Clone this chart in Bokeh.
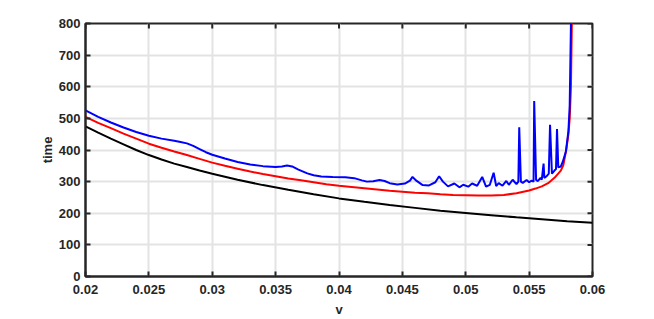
from bokeh.plotting import figure
from bokeh.models import FixedTicker, Range1d
from bokeh.embed import file_html
from bokeh.resources import INLINE

# ---- data ----
x_ticks = [0.02, 0.025, 0.03, 0.035, 0.04, 0.045, 0.05, 0.055, 0.06]
x_tick_labels = ["0.02", "0.025", "0.03", "0.035", "0.04", "0.045", "0.05", "0.055", "0.06"]
y_ticks = [0, 100, 200, 300, 400, 500, 600, 700, 800]
x_min, x_max = 0.02, 0.06
y_min, y_max = 0, 800

v_black = [0.020, 0.021, 0.022, 0.023, 0.024, 0.025, 0.026, 0.027, 0.028, 0.029,
           0.030, 0.032, 0.034, 0.036, 0.038, 0.040, 0.042, 0.044, 0.046, 0.048,
           0.050, 0.052, 0.054, 0.056, 0.058, 0.060]
t_black = [475, 455, 436, 418, 400, 384, 370, 357, 346, 335,
           325, 306, 289, 274, 260, 247, 236, 226, 217, 208,
           201, 194, 187, 181, 175, 170]

v_red = [0.020, 0.021, 0.022, 0.023, 0.024, 0.025, 0.026, 0.027, 0.028, 0.029,
         0.030, 0.031, 0.032, 0.033, 0.034, 0.035, 0.036, 0.037, 0.038, 0.039,
         0.040, 0.041, 0.042, 0.043, 0.044, 0.045, 0.046, 0.047, 0.048, 0.049,
         0.050, 0.051, 0.052, 0.053, 0.054, 0.055, 0.0555, 0.056, 0.0565, 0.057,
         0.0575, 0.0577, 0.0579, 0.0580, 0.0581, 0.0582, 0.0583, 0.05837, 0.0585]
t_red = [505, 486, 469, 452, 436, 420, 407, 395, 384, 372,
         360, 350, 341, 332, 324, 317, 310, 304, 298, 292,
         287, 283, 279, 275, 271, 268, 265, 263, 260, 258,
         257, 256, 256, 258, 263, 272, 278, 285, 295, 312,
         335, 352, 394, 420, 450, 498, 600, 800, 1000]

v_blue = [0.0200, 0.0210, 0.0220, 0.0230, 0.0240, 0.0250, 0.0260, 0.0270, 0.0275, 0.0280,
          0.0285, 0.0290, 0.0295, 0.0300, 0.0310, 0.0320, 0.0330, 0.0340, 0.0350, 0.0355,
          0.0359, 0.0363, 0.0368, 0.0375, 0.0380, 0.0386, 0.0395, 0.0405, 0.0412, 0.0418,
          0.0422, 0.0427, 0.0432, 0.0436, 0.0440, 0.0446, 0.0452, 0.0456, 0.0458, 0.0461,
          0.0466, 0.0471, 0.0476, 0.0479, 0.0482, 0.0486, 0.0491, 0.0495, 0.0498, 0.0502,
          0.0505, 0.0509, 0.0513, 0.0516, 0.0519, 0.0522, 0.0524, 0.0526, 0.0529, 0.0532,
          0.0534, 0.0537, 0.0540, 0.05415, 0.05422, 0.05435, 0.0545, 0.0548, 0.0550, 0.0552,
          0.05535, 0.0554, 0.05555, 0.0557, 0.0559, 0.0560, 0.05614, 0.0562, 0.0564, 0.05655,
          0.05665, 0.0568, 0.0570, 0.05712, 0.0572, 0.0573, 0.0575, 0.05765, 0.0579, 0.0581,
          0.0582, 0.0583, 0.05835]
t_blue = [525, 505, 487, 471, 457, 445, 436, 429, 425, 421,
          413, 403, 393, 385, 373, 362, 354, 349, 346, 348,
          351, 348, 338, 326, 320, 316, 315, 314, 311, 304,
          300, 301, 305, 302, 295, 291, 294, 303, 315, 303,
          289, 288, 298, 317, 300, 285, 294, 282, 290, 284,
          294, 287, 315, 284, 290, 328, 286, 295, 287, 302,
          290, 306, 292, 300, 472, 300, 296, 305, 298, 303,
          300, 555, 305, 302, 312, 306, 357, 312, 318, 325,
          480, 325, 335, 340, 466, 345, 348, 362, 395, 460,
          540, 800, 1000]

# ---- figure ----
AX = "#262626"
FONT = "Liberation Sans"

p = figure(width=654, height=319, output_backend="svg", toolbar_location=None,
           x_range=Range1d(x_min, x_max), y_range=Range1d(y_min, y_max),
           min_border_left=85, min_border_right=62, min_border_top=23, min_border_bottom=40)
p.background_fill_color = "white"
p.border_fill_color = "white"
p.outline_line_color = AX
p.outline_line_width = 2

xt = FixedTicker(ticks=x_ticks)
yt = FixedTicker(ticks=y_ticks)

p.xgrid.ticker = xt
p.ygrid.ticker = yt
p.grid.grid_line_color = "#e3e3e3"
p.grid.grid_line_width = 2

for ax in (p.xaxis[0], p.yaxis[0]):
    ax.axis_line_color = AX
    ax.axis_line_width = 2
    ax.major_tick_line_color = AX
    ax.major_tick_line_width = 2
    ax.major_tick_in = 5
    ax.major_tick_out = 0
    ax.minor_tick_line_color = None
    ax.major_label_text_font = FONT
    ax.major_label_text_font_style = "bold"
    ax.major_label_text_font_size = "13px"
    ax.major_label_text_color = AX
    ax.axis_label_text_font = FONT
    ax.axis_label_text_font_style = "bold"
    ax.axis_label_text_font_size = "13px"
    ax.axis_label_text_color = AX

xa = p.xaxis[0]
ya = p.yaxis[0]
xa.ticker = xt
ya.ticker = yt
xa.major_label_overrides = {t: l for t, l in zip(x_ticks, x_tick_labels)}
xa.axis_label = "v"
ya.axis_label = "time"
xa.major_label_standoff = 8
xa.axis_label_standoff = 5
ya.major_label_standoff = 5
ya.axis_label_standoff = 1

# inward tick marks on the top and right edges of the box (clipped to the frame)
p.rect(x=x_ticks, y=[y_max] * len(x_ticks), width=2, height=10,
       width_units="screen", height_units="screen", fill_color=AX, line_color=None)
p.rect(x=[x_max] * len(y_ticks), y=y_ticks, width=10, height=2,
       width_units="screen", height_units="screen", fill_color=AX, line_color=None)

p.line(v_black, t_black, line_color="black", line_width=2)
p.line(v_red, t_red, line_color="#ff0000", line_width=2)
p.line(v_blue, t_blue, line_color="#0000ff", line_width=2)

open("out.html", "w").write(file_html(p, INLINE))
